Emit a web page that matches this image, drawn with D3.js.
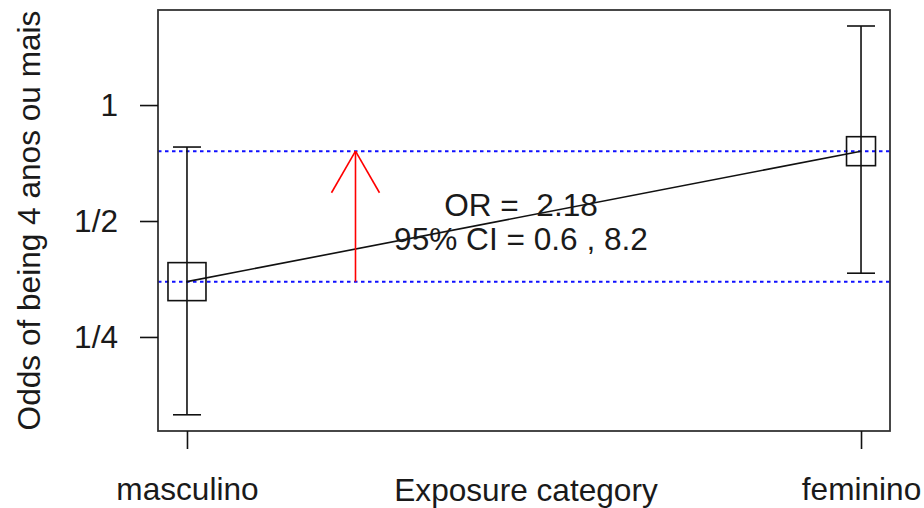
<!DOCTYPE html>
<html>
<head>
<meta charset="utf-8">
<script src="https://cdn.jsdelivr.net/npm/d3@7"></script>
<style>
  body { margin: 0; background: #fff; }
  text { font-family: "Liberation Sans", Arial, sans-serif; fill: #1a1a1a; }
</style>
</head>
<body>
<div id="chart"></div>
<script>
// data
const categories = ['masculino', 'feminino'];
const odds = [0.348, 0.759];
const ciLower = [0.157, 0.366];
const ciUpper = [0.778, 1.604];
const groupSize = [43, 25];
const yTickValues = [1, 0.5, 0.25];
const yTickLabels = ['1', '1/2', '1/4'];
const orText = ['OR =  2.18', '95% CI = 0.6 , 8.2'];
const yTitle = 'Odds of being 4 anos ou mais';
const xTitle = 'Exposure category';

const width = 924, height = 508;
const margin = {top: 10, right: 34, bottom: 77, left: 158};
const innerW = width - margin.left - margin.right;
const innerH = height - margin.top - margin.bottom;
const fontSize = '31.6px';

const svg = d3.select('#chart').append('svg')
    .attr('width', width)
    .attr('height', height);

const g = svg.append('g')
    .attr('transform', `translate(${margin.left}, ${margin.top})`);

// R style extended ranges
const xScale = d3.scaleLinear()
    .domain([0.957, 2.043])
    .range([0, innerW]);

const yScale = d3.scaleLog()
    .base(2)
    .domain([0.1425, 1.765])
    .range([innerH, 0]);

const sizeScale = d3.scaleSqrt()
    .domain([0, d3.max(groupSize)])
    .range([0, 38]);

const rows = categories.map((c, i) => ({
  cat: c, x: i + 1, odds: odds[i], lo: ciLower[i], hi: ciUpper[i], n: groupSize[i]
}));

// reference lines at both odds
g.selectAll('.ref')
  .data(odds)
  .enter().append('line')
    .attr('x1', 0).attr('x2', innerW)
    .attr('y1', d => yScale(d)).attr('y2', d => yScale(d))
    .attr('stroke', '#1010ff')
    .attr('stroke-width', 2)
    .attr('stroke-dasharray', '3.5,3.5');

// error bars
const capW = 14;
rows.forEach(d => {
  const cx = xScale(d.x);
  g.append('line')
    .attr('x1', cx).attr('x2', cx)
    .attr('y1', yScale(d.lo)).attr('y2', yScale(d.hi))
    .attr('stroke', '#111').attr('stroke-width', 1.6);
  [d.lo, d.hi].forEach(v => {
    g.append('line')
      .attr('x1', cx - capW).attr('x2', cx + capW)
      .attr('y1', yScale(v)).attr('y2', yScale(v))
      .attr('stroke', '#111').attr('stroke-width', 1.6);
  });
});

// connecting line
g.append('path')
  .datum(rows)
  .attr('d', d3.line().x(d => xScale(d.x)).y(d => yScale(d.odds)))
  .attr('fill', 'none')
  .attr('stroke', '#111')
  .attr('stroke-width', 1.6);

// squares
g.selectAll('.pt')
  .data(rows)
  .enter().append('rect')
    .attr('x', d => xScale(d.x) - sizeScale(d.n) / 2)
    .attr('y', d => yScale(d.odds) - sizeScale(d.n) / 2)
    .attr('width', d => sizeScale(d.n))
    .attr('height', d => sizeScale(d.n))
    .attr('fill', 'none')
    .attr('stroke', '#111')
    .attr('stroke-width', 1.6);

// red arrow showing the change in odds
const ax = xScale(1.25);
const ay0 = yScale(odds[0]), ay1 = yScale(odds[1]);
g.append('line')
  .attr('x1', ax).attr('x2', ax)
  .attr('y1', ay0).attr('y2', ay1)
  .attr('stroke', '#ff0000').attr('stroke-width', 1.6);
const headLen = 48, ang = Math.PI / 6;
[-1, 1].forEach(s => {
  g.append('line')
    .attr('x1', ax).attr('y1', ay1)
    .attr('x2', ax + s * headLen * Math.sin(ang))
    .attr('y2', ay1 + headLen * Math.cos(ang))
    .attr('stroke', '#ff0000').attr('stroke-width', 1.6);
});

// OR text
g.selectAll('.ortxt')
  .data(orText)
  .enter().append('text')
    .attr('x', innerW / 2 - 3)
    .attr('y', (d, i) => yScale(0.5) - 5 + i * 34)
    .attr('text-anchor', 'middle')
    .style('font-size', fontSize)
    .style('white-space', 'pre')
    .text(d => d);

// box
g.append('rect')
  .attr('x', 0).attr('y', 0)
  .attr('width', innerW).attr('height', innerH)
  .attr('fill', 'none')
  .attr('stroke', '#333')
  .attr('stroke-width', 1.8);

// y axis
const yAxis = g.append('g')
  .call(d3.axisLeft(yScale)
    .tickValues(yTickValues)
    .tickFormat((d, i) => yTickLabels[i])
    .tickSize(18)
    .tickPadding(22)
    .tickSizeOuter(0));
yAxis.select('.domain').remove();
yAxis.selectAll('line').attr('stroke', '#111').attr('stroke-width', 1.6);
yAxis.selectAll('text')
  .style('font-size', fontSize)
  .style('font-family', '"Liberation Sans", Arial, sans-serif')
  .attr('fill', '#1a1a1a');

// x axis
const xAxis = g.append('g')
  .attr('transform', `translate(0, ${innerH})`)
  .call(d3.axisBottom(xScale)
    .tickValues(rows.map(d => d.x))
    .tickFormat((d, i) => categories[i])
    .tickSize(18)
    .tickPadding(29)
    .tickSizeOuter(0));
xAxis.select('.domain').remove();
xAxis.selectAll('line').attr('stroke', '#111').attr('stroke-width', 1.6);
xAxis.selectAll('text')
  .style('font-size', fontSize)
  .style('font-family', '"Liberation Sans", Arial, sans-serif')
  .attr('fill', '#1a1a1a');

// titles
svg.append('text')
  .attr('x', margin.left + innerW / 2 + 2)
  .attr('y', 501)
  .attr('text-anchor', 'middle')
  .style('font-size', fontSize)
  .text(xTitle);

svg.append('text')
  .attr('transform', `translate(40, ${margin.top + innerH / 2}) rotate(-90)`)
  .attr('text-anchor', 'middle')
  .style('font-size', fontSize)
  .text(yTitle);
</script>
</body>
</html>
